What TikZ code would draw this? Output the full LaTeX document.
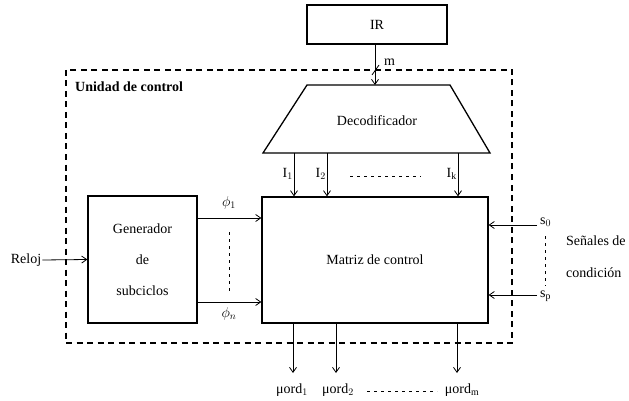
\documentclass[tikz,border=0pt]{standalone}
\usepackage{fontspec}
\setmainfont{Liberation Serif}
\usetikzlibrary{arrows.meta}
\begin{document}
\begin{tikzpicture}[x=1pt,y=-1pt,
  font=\fontsize{14}{16}\selectfont,
  box/.style={draw,line width=1.3pt,inner sep=0pt},
  arr/.style={-{Straight Barb[length=5pt,width=7pt]},line width=0.8pt},
  sep/.style={line width=0.5pt,dash pattern=on 3pt off 4pt},
  lbl/.style={inner sep=1pt}]
\useasboundingbox (0,0) rectangle (629,401);

% control unit boundary
\draw[line width=1.1pt,dash pattern=on 6pt off 4.5pt] (66,70) rectangle (512,343);
\node[lbl,anchor=west,font=\fontsize{14}{16}\selectfont\bfseries] (uc) at (74,87) {Unidad de control};

% instruction register and decoder
\node[box,minimum width=140,minimum height=39] (ir) at (377,24.5) {IR};
\coordinate (dtl) at (307,85);
\coordinate (dtr) at (450,85);
\coordinate (dbr) at (490,153);
\coordinate (dbl) at (263,153);
\draw[line width=1.3pt,line join=miter] (dtl) -- (dtr) -- (dbr) -- (dbl) -- cycle;
\node (dec) at (377,121) {Decodificador};
\coordinate (dectop) at (375,85);
\draw[arr] (ir.south -| dectop) -- (dectop);
\draw[line width=0.8pt] (372,75) -- (379,65);
\node[lbl,anchor=west] (m) at (383,62) {m};

% main blocks
\node[box,minimum width=226,minimum height=126] (mc) at (375,260) {Matriz de control};
\node[box,minimum width=109,minimum height=127,align=center] (gen) at (142.5,259.5)
  {Generador\\[15pt]de\\[15pt]subciclos};

% decoder outputs
\foreach \x/\n/\t in {294/i1/I$_1$,327/i2/I$_2$,458/ik/I$_\mathrm{k}$}{
  \coordinate (\n) at (\x,153);
  \draw[arr] (\n) -- (\n |- mc.north);
  \node[lbl,anchor=east] (\n l) at (\x,174) {\t};
}
\draw[sep] (350,176) -- (421,176);

% clock input
\node[lbl] (reloj) at (26,260) {Reloj};
\draw[arr] (reloj.east) -- (gen.west);

% subcycle signals
\coordinate (p1) at (197,218);
\coordinate (pn) at (197,302);
\draw[arr] (p1) -- (p1 -| mc.west);
\draw[arr] (pn) -- (pn -| mc.west);
\node[lbl] (p1l) at (229,203) {$\phi_{1}$};
\node[lbl] (pnl) at (229,314) {$\phi_{n}$};
\draw[sep] (229,232) -- (229,292);

% condition signals
\coordinate (s0) at (537,225);
\coordinate (sp) at (537,295);
\draw[arr] (s0) -- (s0 -| mc.east);
\draw[arr] (sp) -- (sp -| mc.east);
\node[lbl,anchor=west] (s0l) at (539,222) {s$_0$};
\node[lbl,anchor=west] (spl) at (539,296) {s$_\mathrm{p}$};
\draw[sep] (545,236) -- (545,286);
\node[lbl,anchor=west] (sen1) at (565,241) {Señales de};
\node[lbl,anchor=west] (sen2) at (565,273) {condición};

% micro-orders
\foreach \x/\n/\t/\lx in {293/o1/{μord$_1$}/292,336/o2/{μord$_2$}/338,457/om/{μord$_\mathrm{m}$}/462}{
  \coordinate (\n) at (\x,373);
  \draw[arr] (\n |- mc.south) -- (\n);
  \node[lbl] (\n l) at (\lx,390) {\t};
}
\draw[sep] (367,391) -- (437,391);
\end{tikzpicture}
\end{document}
